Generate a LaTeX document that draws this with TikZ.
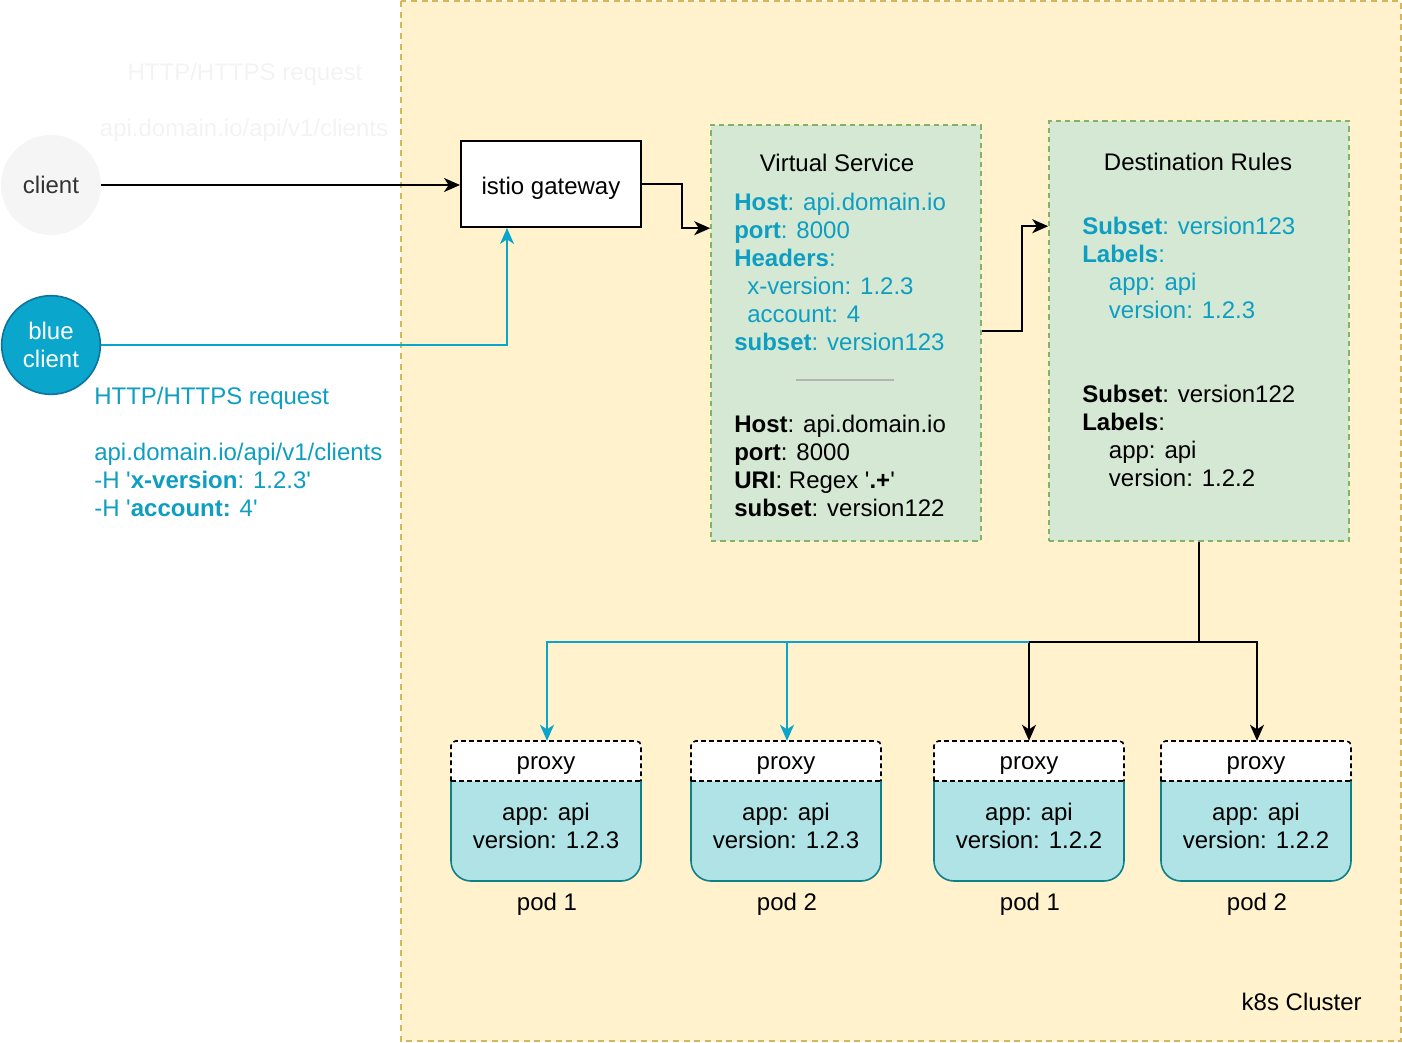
\documentclass[tikz,border=0pt]{standalone}
\usepackage{fontspec}
\setmainfont{Liberation Sans}
\usetikzlibrary{arrows.meta,calc}
\definecolor{clusterfill}{HTML}{FFF2CC}
\definecolor{clusterline}{HTML}{D6B656}
\definecolor{greenfill}{HTML}{D5E8D4}
\definecolor{greenline}{HTML}{82B366}
\definecolor{tealfill}{HTML}{B0E3E6}
\definecolor{tealline}{HTML}{0E8088}
\definecolor{bluefill}{HTML}{0AA6CB}
\definecolor{blueline}{HTML}{10739E}
\definecolor{cyanline}{HTML}{0AA5CC}
\definecolor{cyantext}{HTML}{0E9EC2}
\definecolor{faint}{HTML}{F3F3F3}
\definecolor{clientfill}{HTML}{F5F5F5}
\definecolor{clienttext}{HTML}{333333}
\definecolor{sepgray}{HTML}{B3B3B3}
\begin{document}
\begin{tikzpicture}[x=0.75pt,y=-0.75pt,
  font=\fontsize{18}{21}\selectfont,
  lbl/.style={inner sep=0pt, anchor=base west, align=left},
  conn/.style={line width=1.5pt, -{Stealth[length=12pt,width=10.5pt,inset=3.5pt]}},
  cconn/.style={conn, draw=cyanline},
  gbox/.style={draw=greenline, fill=greenfill, line width=1.2pt, dash pattern=on 4pt off 3pt, inner sep=0pt},
  proxynode/.style={inner sep=0pt, minimum width=142.5pt, minimum height=30pt, text depth=0pt},
]
\useasboundingbox (0,0) rectangle (1402,1042);
% cluster
\draw[fill=clusterfill, draw=clusterline, line width=1.5pt, dash pattern=on 4.5pt off 3.5pt] (401,1) rectangle (1401,1041);
\node[anchor=base east, inner sep=0pt] (k8s) at (1362,1010) {k8s Cluster};

% faint texts
\node[text=faint, inner sep=0pt] (ft1) at (245,74) {HTTP/HTTPS request};
\node[text=faint, inner sep=0pt] (ft2) at (244,130) {api.domain.io/api/v1/clients};

% clients
\node[circle, fill=clientfill, minimum size=75pt, inner sep=0pt, text=clienttext] (client) at (51,185) {client};
\node[circle, fill=bluefill, draw=blueline, line width=1.2pt, minimum size=74pt, inner sep=0pt, text=white, align=center] (bclient) at (51,345) {blue\\client};

% gateway
\node[draw, fill=white, line width=1.5pt, minimum width=135pt, minimum height=64.5pt, inner sep=0pt, text depth=0pt] (gw) at (551,184) {\raisebox{-3pt}{istio gateway}};

% virtual service & destination rules boxes
\node[gbox, minimum width=202.5pt, minimum height=312pt] (vs) at (846,333) {};
\node[gbox, minimum width=225pt, minimum height=315pt] (dr) at (1199,331) {};

\node (vst) at (837,163) {Virtual Service};
\node (drt) at (1198,162) {Destination Rules};

\node[lbl, text=cyantext] (vs1) at (734,350.5) {\textbf{Host}: api.domain.io\\ \textbf{port}: 8000\\ \textbf{Headers}:\\ \hspace*{9.75pt}x-version: 1.2.3\\ \hspace*{9.75pt}account: 4\\ \textbf{subset}: version123};
\coordinate (sepL) at (796,380);
\coordinate (sepR) at (894,380);
\draw[sepgray, line width=1.5pt] (sepL) -- (sepR);
\node[lbl] (vs2) at (734,516.5) {\textbf{Host}: api.domain.io\\ \textbf{port}: 8000\\ \textbf{URI}: Regex \textquotesingle\textbf{.+}\textquotesingle\\ \textbf{subset}: version122};

\node[lbl, text=cyantext] (dr1) at (1082,318.5) {\textbf{Subset}: version123\\ \textbf{Labels}:\\ \hspace*{20pt}app: api\\ \hspace*{20pt}version: 1.2.3};
\node[lbl] (dr2) at (1082,486.5) {\textbf{Subset}: version122\\ \textbf{Labels}:\\ \hspace*{20pt}app: api\\ \hspace*{20pt}version: 1.2.2};

% request text
\node[lbl, text=cyantext] (req) at (94,516.5) {HTTP/HTTPS request\\[21pt]api.domain.io/api/v1/clients\\ -H \textquotesingle\textbf{x-version}: 1.2.3\textquotesingle\\ -H \textquotesingle\textbf{account:} 4\textquotesingle};

% pods
\foreach \i/\cx/\ver/\pod in {1/546/1.2.3/pod 1, 2/786/1.2.3/pod 2, 3/1029/1.2.2/pod 1, 4/1256/1.2.2/pod 2}{
  \draw[fill=tealfill, draw=tealline, line width=1.2pt, rounded corners=15pt]
    (\cx-95,781) -- (\cx-95,881) -- (\cx+95,881) -- (\cx+95,781);
  \fill[white, rounded corners=3.5pt] (\cx-95,781) -- (\cx-95,741) -- (\cx+95,741) -- (\cx+95,781) -- cycle;
  \draw[line width=1.2pt, dash pattern=on 3.5pt off 2.5pt, rounded corners=3.5pt]
    (\cx-95,781) -- (\cx-95,741) -- (\cx+95,741) -- (\cx+95,781);
  \draw[line width=1.2pt, dash pattern=on 3.5pt off 2.5pt] (\cx-95,781) -- (\cx+95,781);
  \node[proxynode] (px\i) at (\cx,761) {\raisebox{-3pt}{proxy}};
  \node[align=center, inner sep=0pt] (app\i) at (\cx,826) {app: api\\version: \ver};
  \node[inner sep=0pt, text depth=0pt] (pl\i) at (\cx+1,902) {\pod};
}

% connectors
\draw[conn] (client.east) -- (gw.west |- client.east);
\coordinate (gwb) at ($(gw.south)+(-44,0)$);
\draw[cconn] (bclient.east) -| (gwb);

\coordinate (vsin) at ($(vs.north west)+(0,104)$);
\draw[conn] (gw.east) -- ++(40,0) |- (vsin);

\coordinate (vsout) at ($(vs.north east)+(0,207)$);
\coordinate (drin) at ($(dr.north west)+(0,106)$);
\draw[conn] (vsout) -- ++(40,0) |- (drin);

\coordinate (j) at ($(dr.south)+(0,100)$);
\draw[line width=1.5pt] (dr.south) -- (j);
\draw[conn] (j) -| (px3.north);
\draw[conn] (j) -| ($(px4.north)+(1,0)$);
\draw[cconn] (px3.north |- j) -| ($(px1.north)+(1,0)$);
\draw[cconn] ($(px2.north |- j)+(1,0)$) -- ($(px2.north)+(1,0)$);
\end{tikzpicture}
\end{document}
